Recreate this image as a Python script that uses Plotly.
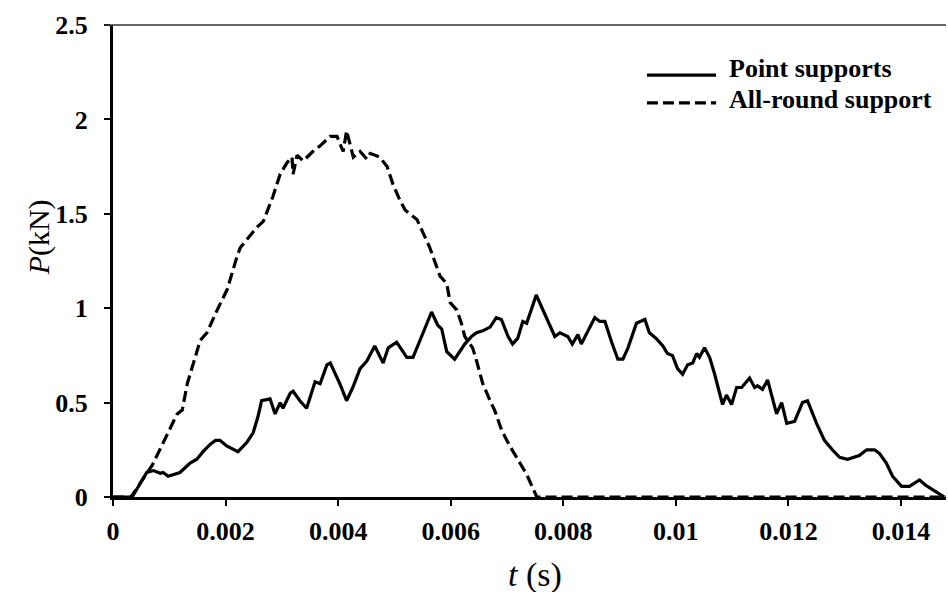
import plotly.graph_objects as go

# Point supports (solid)
t_point = [0.0, 0.00034, 0.00048, 0.00060, 0.00072, 0.00084, 0.00089, 0.00098, 0.00119, 0.00137,
           0.00149, 0.00160, 0.00173, 0.00182, 0.00190, 0.00202, 0.00222, 0.00238, 0.00249, 0.00258,
           0.00264, 0.00279, 0.00288, 0.00297, 0.00302, 0.00315, 0.00320, 0.00332, 0.00344, 0.00359,
           0.00368, 0.00380, 0.00386, 0.00403, 0.00415, 0.00426, 0.00439, 0.00451, 0.00465, 0.00480,
           0.00489, 0.00504, 0.00522, 0.00533, 0.00551, 0.00566, 0.00577, 0.00584, 0.00593, 0.00607,
           0.00625, 0.00637, 0.00646, 0.00657, 0.00670, 0.00681, 0.00690, 0.00702, 0.00710, 0.00719,
           0.00728, 0.00735, 0.00752, 0.00764, 0.00772, 0.00785, 0.00794, 0.00808, 0.00816, 0.00826,
           0.00832, 0.00844, 0.00856, 0.00865, 0.00874, 0.00886, 0.00897, 0.00906, 0.00915, 0.00930,
           0.00945, 0.00953, 0.00965, 0.00977, 0.00985, 0.00994, 0.01003, 0.01012, 0.01021, 0.01030,
           0.01037, 0.01042, 0.01051, 0.01060, 0.01069, 0.01083, 0.01090, 0.01099, 0.01108, 0.01117,
           0.01131, 0.01140, 0.01145, 0.01154, 0.01163, 0.01179, 0.01188, 0.01197, 0.01211, 0.01225,
           0.01234, 0.01250, 0.01264, 0.01278, 0.01291, 0.01305, 0.01314, 0.01326, 0.01339, 0.01353,
           0.01362, 0.01374, 0.01385, 0.01401, 0.01415, 0.01433, 0.01445, 0.01463, 0.01477]
p_point = [0.0, 0.0, 0.07, 0.13, 0.14, 0.126, 0.13, 0.11, 0.13, 0.18,
           0.20, 0.24, 0.28, 0.30, 0.30, 0.27, 0.24, 0.29, 0.34, 0.43,
           0.51, 0.52, 0.44, 0.50, 0.47, 0.55, 0.56, 0.51, 0.47, 0.61,
           0.60, 0.70, 0.71, 0.60, 0.51, 0.58, 0.68, 0.72, 0.80, 0.71,
           0.79, 0.82, 0.74, 0.74, 0.87, 0.98, 0.91, 0.89, 0.77, 0.73,
           0.81, 0.85, 0.87, 0.88, 0.90, 0.95, 0.94, 0.85, 0.81, 0.84,
           0.93, 0.92, 1.07, 0.99, 0.93, 0.85, 0.87, 0.85, 0.81, 0.86,
           0.81, 0.88, 0.95, 0.93, 0.93, 0.82, 0.73, 0.73, 0.79, 0.92,
           0.94, 0.87, 0.84, 0.80, 0.76, 0.75, 0.68, 0.65, 0.70, 0.71,
           0.76, 0.74, 0.79, 0.74, 0.65, 0.49, 0.54, 0.49, 0.58, 0.58,
           0.63, 0.58, 0.59, 0.57, 0.62, 0.44, 0.50, 0.39, 0.40, 0.50,
           0.51, 0.39, 0.30, 0.25, 0.21, 0.20, 0.21, 0.22, 0.25, 0.25,
           0.23, 0.18, 0.11, 0.056, 0.056, 0.09, 0.06, 0.025, 0.0]

# All-round support (dashed)
t_round = [0.0, 0.00032, 0.00070, 0.00100, 0.00114, 0.00123, 0.00132, 0.00155, 0.00167, 0.00185,
           0.00203, 0.00220, 0.00226, 0.00256, 0.00267, 0.00284, 0.00297, 0.00309, 0.00318, 0.00320,
           0.00327, 0.00338, 0.00355, 0.00368, 0.00386, 0.00398, 0.00409, 0.00415, 0.00427, 0.00439,
           0.00451, 0.00457, 0.00474, 0.00487, 0.00497, 0.00510, 0.00519, 0.00540, 0.00551, 0.00563,
           0.00575, 0.00581, 0.00593, 0.00599, 0.00611, 0.00619, 0.00625, 0.00639, 0.00646, 0.00657,
           0.00670, 0.00678, 0.00691, 0.00705, 0.00723, 0.00735, 0.00753, 0.0148]
p_round = [0.0, 0.0, 0.17, 0.35, 0.44, 0.46, 0.60, 0.83, 0.87, 0.99,
           1.10, 1.27, 1.32, 1.43, 1.46, 1.59, 1.71, 1.77, 1.80, 1.71,
           1.81, 1.78, 1.83, 1.86, 1.91, 1.91, 1.83, 1.94, 1.80, 1.83,
           1.79, 1.82, 1.80, 1.75, 1.66, 1.57, 1.52, 1.47, 1.40, 1.32,
           1.22, 1.17, 1.13, 1.03, 0.99, 0.92, 0.85, 0.79, 0.72, 0.60,
           0.51, 0.46, 0.35, 0.27, 0.18, 0.12, 0.0, 0.0]

x_ticks = [0, 0.002, 0.004, 0.006, 0.008, 0.01, 0.012, 0.014]
x_ticktext = ["0", "0.002", "0.004", "0.006", "0.008", "0.01", "0.012", "0.014"]
y_ticks = [0, 0.5, 1, 1.5, 2, 2.5]
y_ticktext = ["0", "0.5", "1", "1.5", "2", "2.5"]
series_names = ["Point supports", "All-round support"]
x_title = "<i>t</i> (s)"
y_title = "<i>P</i>(kN)"

FONT = "Liberation Serif, Times New Roman, serif"
DASH = "11px,5px"

fig = go.Figure()
fig.add_trace(go.Scatter(x=t_point, y=p_point, mode="lines", name=series_names[0],
                         line=dict(color="black", width=3.2), showlegend=False))
fig.add_trace(go.Scatter(x=t_round, y=p_round, mode="lines", name=series_names[1],
                         line=dict(color="black", width=3.2, dash=DASH), showlegend=False))

# legend drawn manually to match long sample lines
leg_x0, leg_x1, leg_tx = 0.641, 0.724, 0.737
leg_rows = [(0.894, 0.907, "solid"), (0.835, 0.843, DASH)]
for (ly, ty, dsh), name in zip(leg_rows, series_names):
    fig.add_shape(type="line", xref="paper", yref="paper", x0=leg_x0, x1=leg_x1, y0=ly, y1=ly,
                  line=dict(color="black", width=3.2, dash=dsh))
    fig.add_annotation(xref="paper", yref="paper", x=leg_tx, y=ty, xanchor="left", yanchor="middle",
                       text="<b>%s</b>" % name, showarrow=False,
                       font=dict(family=FONT, size=26, color="black"))

# axis titles
fig.add_annotation(xref="paper", yref="paper", x=0.507, y=-0.165, xanchor="center", yanchor="middle",
                   text=x_title, showarrow=False, font=dict(family=FONT, size=34, color="black"))
fig.add_annotation(xref="paper", yref="paper", x=-0.0895, y=0.551, xanchor="center", yanchor="middle",
                   text=y_title, textangle=-90, showarrow=False,
                   font=dict(family=FONT, size=30, color="black"))

# thin top border
fig.add_shape(type="line", xref="paper", yref="paper", x0=-0.01, x1=1.0, y0=1, y1=1,
              line=dict(color="#333333", width=1.5))

fig.update_layout(
    width=948, height=592,
    margin=dict(l=113, r=2, t=25, b=95),
    paper_bgcolor="white", plot_bgcolor="white",
    font=dict(family=FONT, color="black"),
    xaxis=dict(range=[0, 0.0148], tickvals=x_ticks, ticktext=["<b>%s</b>" % s for s in x_ticktext],
               showgrid=False, zeroline=False, showline=True, linecolor="black", linewidth=3,
               ticks="outside", ticklen=6, tickwidth=2, tickcolor="black", ticklabelstandoff=3,
               tickfont=dict(family=FONT, size=26, color="black")),
    yaxis=dict(range=[0, 2.5], tickvals=y_ticks, ticktext=["<b>%s</b>" % s for s in y_ticktext],
               showgrid=False, zeroline=False, showline=True, linecolor="black", linewidth=3,
               ticks="outside", ticklen=6, tickwidth=2, tickcolor="black", ticklabelstandoff=11,
               tickfont=dict(family=FONT, size=26, color="black")),
)

fig.write_html("out.html")
